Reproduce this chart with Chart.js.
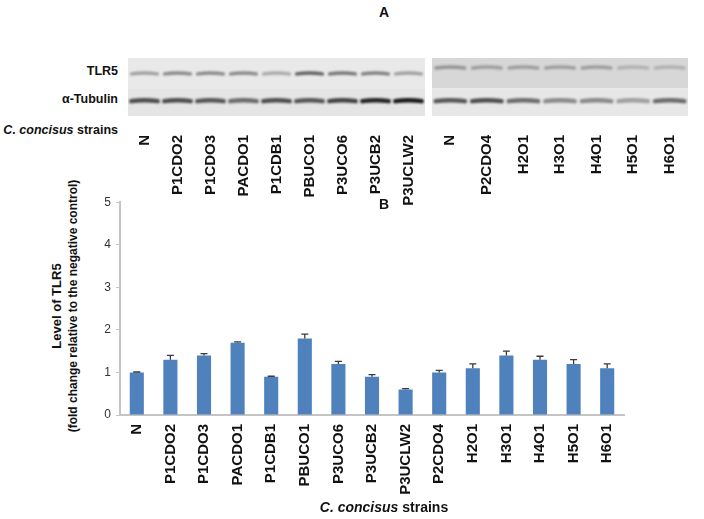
<!DOCTYPE html>
<html><head><meta charset="utf-8">
<script src="https://cdn.jsdelivr.net/npm/chart.js@4.4.0/dist/chart.umd.min.js"></script>
<style>
html,body{margin:0;padding:0;background:#fff;}
body{width:704px;height:519px;position:relative;overflow:hidden;font-family:"Liberation Sans",Arial,sans-serif;}
.t{position:absolute;font-weight:bold;color:#111;white-space:nowrap;}
canvas{position:absolute;}
</style></head><body>
<div class="t" style="left:334px;width:100px;top:4px;text-align:center;font-size:14px">A</div>
<div class="t" style="right:586px;top:64px;font-size:12.5px;text-align:right">TLR5</div>
<div class="t" style="right:586px;top:92px;font-size:12.5px;text-align:right">α-Tubulin</div>
<div class="t" style="right:586px;top:123px;font-size:12.5px;text-align:right"><i>C. concisus</i> strains</div>
<canvas id="blotL" width="297" height="160" style="left:128px;top:56px"></canvas>
<canvas id="blotR" width="256" height="160" style="left:432px;top:56px"></canvas>
<div class="t" style="left:334px;width:100px;top:196px;text-align:center;font-size:14px">B</div>
<div class="t" style="left:-95px;top:290px;width:320px;height:32px;line-height:16px;text-align:center;font-size:12px;transform:rotate(-90deg);transform-origin:50% 50%"><span style="font-size:13px">Level of TLR5</span><br>(fold change relative to the negative control)</div>
<canvas id="bars" width="704" height="329" style="left:0;top:190px"></canvas>
<div class="t" style="left:259px;width:250px;top:499px;text-align:center;font-size:14px"><i>C. concisus</i> strains</div>
<script>
// ---- data ----
const lanesLeft = ['N','P1CDO2','P1CDO3','PACDO1','P1CDB1','PBUCO1','P3UCO6','P3UCB2','P3UCLW2'];
const lanesRight = ['N','P2CDO4','H2O1','H3O1','H4O1','H5O1','H6O1'];
const tlr5BandLeft = [0.35,0.45,0.45,0.45,0.3,0.65,0.55,0.5,0.35];
const tubulinBandLeft = [0.75,0.75,0.7,0.6,0.75,0.7,0.8,0.95,1.0];
const tlr5BandRight = [0.35,0.3,0.3,0.3,0.3,0.2,0.2];
const tubulinBandRight = [0.7,0.75,0.6,0.45,0.45,0.35,0.6];

const strains = ['N','P1CDO2','P1CDO3','PACDO1','P1CDB1','PBUCO1','P3UCO6','P3UCB2','P3UCLW2','P2CDO4','H2O1','H3O1','H4O1','H5O1','H6O1'];
const tlr5Level = [1.0,1.3,1.4,1.7,0.9,1.8,1.2,0.9,0.6,1.0,1.1,1.4,1.3,1.2,1.1];
const tlr5Error = [0.01,0.1,0.04,0.02,0.01,0.1,0.06,0.05,0.02,0.05,0.1,0.1,0.08,0.1,0.1];
const yTicks = [0,1,2,3,4,5];

const FAM = '"Liberation Sans", Arial, sans-serif';

// ---- blot panel ----
function drawBand(ctx, cx, cy, w, h, v){
  ctx.save();
  ctx.filter = 'blur(1px)';
  ctx.strokeStyle = 'rgba(25,25,25,' + v + ')';
  ctx.lineWidth = h;
  ctx.lineCap = 'round';
  ctx.beginPath();
  ctx.moveTo(cx - w/2, cy + 0.8);
  ctx.quadraticCurveTo(cx, cy - 1.2, cx + w/2, cy + 0.8);
  ctx.stroke();
  ctx.restore();
}
const blotPlugin = {
  id: 'blot',
  beforeDatasetsDraw(chart, args, o){
    const {ctx, chartArea: a, scales: {x}} = chart;
    const h = a.bottom - a.top;
    const mid = a.top + h * 0.52;
    ctx.save();
    ctx.fillStyle = o.topBg; ctx.fillRect(a.left, a.top, a.right - a.left, mid - a.top);
    ctx.fillStyle = o.botBg; ctx.fillRect(a.left, mid, a.right - a.left, a.bottom - mid);
    ctx.restore();
    const slot = x.getPixelForValue(1) - x.getPixelForValue(0);
    const ds = chart.data.datasets;
    ds[0].data.forEach((v, i) => drawBand(ctx, x.getPixelForValue(i), a.top + h * o.tlrRow, slot * 0.78, 3.5, v));
    ds[1].data.forEach((v, i) => drawBand(ctx, x.getPixelForValue(i), a.top + h * 0.73, slot * 0.8, 4.5, v));
  }
};
function blotChart(id, lanes, tlr, tub, topBg, botBg, tlrRow){
  return new Chart(document.getElementById(id), {
    type: 'bar',
    data: { labels: lanes, datasets: [
      { data: tlr, backgroundColor: 'rgba(0,0,0,0)' },
      { data: tub, backgroundColor: 'rgba(0,0,0,0)' } ] },
    options: {
      responsive: false, animation: false, events: [],
      layout: { padding: { top: 2, left: 0, right: 0, bottom: 0 } },
      plugins: { legend: { display: false }, tooltip: { enabled: false },
        blot: { topBg, botBg, tlrRow } },
      scales: {
        y: { display: false, min: 0, max: 1 },
        x: { afterFit(s){ s.height = 100; s.paddingLeft = 0; s.paddingRight = 0; },
             grid: { display: false, drawTicks: false, tickLength: 0 }, border: { display: false },
             ticks: { autoSkip: false, minRotation: 90, maxRotation: 90, padding: 19, color: '#111',
                      font: { family: FAM, size: 15, weight: 'bold' } } }
      }
    },
    plugins: [blotPlugin]
  });
}
blotChart('blotL', lanesLeft, tlr5BandLeft, tubulinBandLeft, '#e9e9e9', '#e5e5e5', 0.26);
blotChart('blotR', lanesRight, tlr5BandRight, tubulinBandRight, '#d7d7d7', '#e7e7e7', 0.16);

// ---- bar chart ----
const errorBars = {
  id: 'errorBars',
  afterDatasetsDraw(chart){
    const {ctx, scales: {y}} = chart;
    const meta = chart.getDatasetMeta(0);
    ctx.save();
    ctx.strokeStyle = '#3a3a3a';
    ctx.lineWidth = 1.3;
    meta.data.forEach((bar, i) => {
      const y0 = y.getPixelForValue(tlr5Level[i]);
      const y1 = y.getPixelForValue(tlr5Level[i] + tlr5Error[i]);
      ctx.beginPath();
      ctx.moveTo(bar.x, y0); ctx.lineTo(bar.x, y1);
      ctx.moveTo(bar.x - 3.5, y1); ctx.lineTo(bar.x + 3.5, y1);
      ctx.stroke();
    });
    ctx.restore();
  }
};
new Chart(document.getElementById('bars'), {
  type: 'bar',
  data: { labels: strains, datasets: [{ data: tlr5Level, backgroundColor: '#4f81bd',
          barPercentage: 0.42, categoryPercentage: 1 }] },
  options: {
    responsive: false, animation: false, events: [],
    layout: { padding: { top: 9, left: 0, right: 80, bottom: 0 } },
    plugins: { legend: { display: false }, tooltip: { enabled: false } },
    scales: {
      y: { min: 0, max: 5,
           afterFit(s){ s.width = 120; },
           afterBuildTicks(s){ s.ticks = yTicks.map(v => ({ value: v })); },
           ticks: { color: '#333', padding: 5, font: { family: FAM, size: 12 } },
           grid: { drawOnChartArea: false, drawTicks: true, tickLength: 4, color: '#c4c4c4', lineWidth: 1 },
           border: { display: true, color: '#c4c4c4', width: 2 } },
      x: { afterFit(s){ s.height = 104; },
           grid: { display: false, drawTicks: false, tickLength: 0 },
           border: { display: true, color: '#c4c4c4', width: 2 },
           ticks: { autoSkip: false, minRotation: 90, maxRotation: 90, padding: 9, color: '#111',
                    font: { family: FAM, size: 15, weight: 'bold' } } }
    }
  },
  plugins: [errorBars]
});
</script>
</body></html>
